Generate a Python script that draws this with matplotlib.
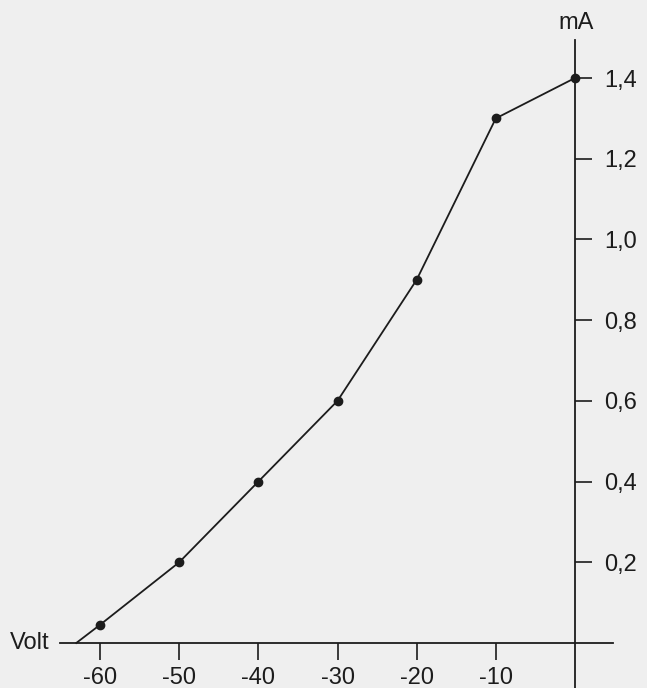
import matplotlib.pyplot as plt
import numpy as np

# meetpunten: spanning (V) tegen stroom (mA)
volts = [-60, -50, -40, -30, -20, -10, 0]
milliamps = [0.045, 0.2, 0.4, 0.6, 0.9, 1.3, 1.4]
start_volt = -63  # lijn begint hier op de nullijn
x_ticks = [-60, -50, -40, -30, -20, -10]
x_labels = ["-60", "-50", "-40", "-30", "-20", "-10"]
y_ticks = [0.2, 0.4, 0.6, 0.8, 1.0, 1.2, 1.4]
y_labels = ["0,2", "0,4", "0,6", "0,8", "1,0", "1,2", "1,4"]

INK = "#1c1c1c"
PAPER = "#efefef"

plt.rcParams["font.family"] = ["Liberation Sans", "DejaVu Sans"]

fig = plt.figure(figsize=(6.47, 6.88), dpi=100, facecolor=PAPER)
ax = fig.add_axes([0, 0, 1, 1], facecolor=PAPER)

# pixel mapping: -60 V at x=100, 0 V at x=575; 0 mA at y=643, 1.4 mA at y=78
px_v = (575 - 100) / 60
px_ma = (643 - 78) / 1.4
ax.set_xlim(-575 / px_v, (647 - 575) / px_v)
ax.set_ylim(-(688 - 643) / px_ma, 643 / px_ma)

ax.plot([start_volt] + volts, [0] + milliamps, color=INK, lw=1.3)
ax.plot(volts, milliamps, "o", color=INK, ms=6)

for s in ["top", "left"]:
    ax.spines[s].set_visible(False)
ax.spines["bottom"].set_position(("data", 0))
ax.spines["right"].set_position(("data", 0))
ax.spines["bottom"].set_bounds(-65.0, 4.8)
ax.spines["right"].set_bounds(-0.12, (643 - 40) / px_ma)
for s in ["bottom", "right"]:
    ax.spines[s].set_color(INK)
    ax.spines[s].set_linewidth(1.3)

ax.set_xticks(x_ticks)
ax.set_xticklabels(x_labels)
ax.set_yticks(y_ticks)
ax.set_yticklabels(y_labels)
ax.yaxis.tick_right()
ax.tick_params(axis="x", direction="out", length=12, width=1.2, color=INK,
               pad=5, labelsize=17, labelcolor=INK)
ax.tick_params(axis="y", direction="out", length=12, width=1.2, color=INK,
               pad=9, labelsize=17, labelcolor=INK)

ax.text(-66.4, 0, "Volt", ha="right", va="center", fontsize=17, color=INK)
ax.text(0.2, (643 - 23) / px_ma, "mA", ha="center", va="center",
        fontsize=17, color=INK)

fig.savefig("out.png", dpi=100, facecolor=PAPER)
